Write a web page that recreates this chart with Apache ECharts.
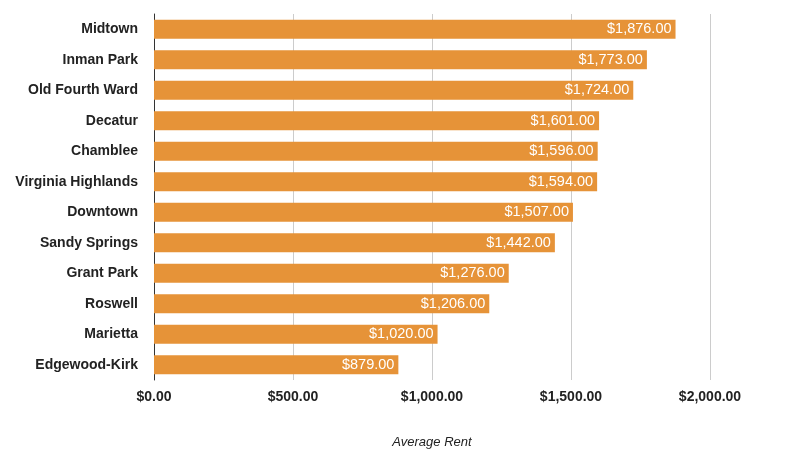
<!DOCTYPE html>
<html><head><meta charset="utf-8">
<script src="https://cdn.jsdelivr.net/npm/echarts@6/dist/echarts.min.js"></script>
<style>html,body{margin:0;padding:0;background:#fff}#c{width:785px;height:460px}</style>
</head><body><div id="c"></div>
<script>
const categories = ["Midtown","Inman Park","Old Fourth Ward","Decatur","Chamblee","Virginia Highlands","Downtown","Sandy Springs","Grant Park","Roswell","Marietta","Edgewood-Kirk"];
const rents = [1876,1773,1724,1601,1596,1594,1507,1442,1276,1206,1020,879];
const axisName = "Average Rent";
const fmt = v => '$' + v.toLocaleString('en-US',{minimumFractionDigits:2,maximumFractionDigits:2});
const chart = echarts.init(document.getElementById('c'));
chart.setOption({
  animation:false,
  grid:{left:154,right:75,top:14,bottom:80,containLabel:false},
  xAxis:{type:'value',min:0,max:2000,interval:500,
    axisLine:{show:false},axisTick:{show:false},
    splitLine:{lineStyle:{color:'#cccccc'}},
    axisLabel:{formatter:fmt,fontFamily:'Arial, Liberation Sans',fontWeight:'bold',fontSize:14,color:'#222',margin:10},
    name:axisName,nameLocation:'middle',nameGap:56,
    nameTextStyle:{fontFamily:'Arial, Liberation Sans',fontStyle:'italic',fontSize:13,color:'#222'}},
  yAxis:{type:'category',data:categories,inverse:true,
    axisLine:{show:true,lineStyle:{color:'#333',width:1}},axisTick:{show:false},
    axisLabel:{fontFamily:'Arial, Liberation Sans',fontWeight:'bold',fontSize:14,color:'#222',margin:16}},
  series:[{type:'bar',data:rents,barCategoryGap:'37%',
    itemStyle:{color:'#e69338'},
    label:{show:true,position:'insideRight',distance:4,formatter:p=>fmt(p.value),color:'#fff',fontFamily:'Arial, Liberation Sans',fontSize:14.5}}]
});
</script></body></html>
